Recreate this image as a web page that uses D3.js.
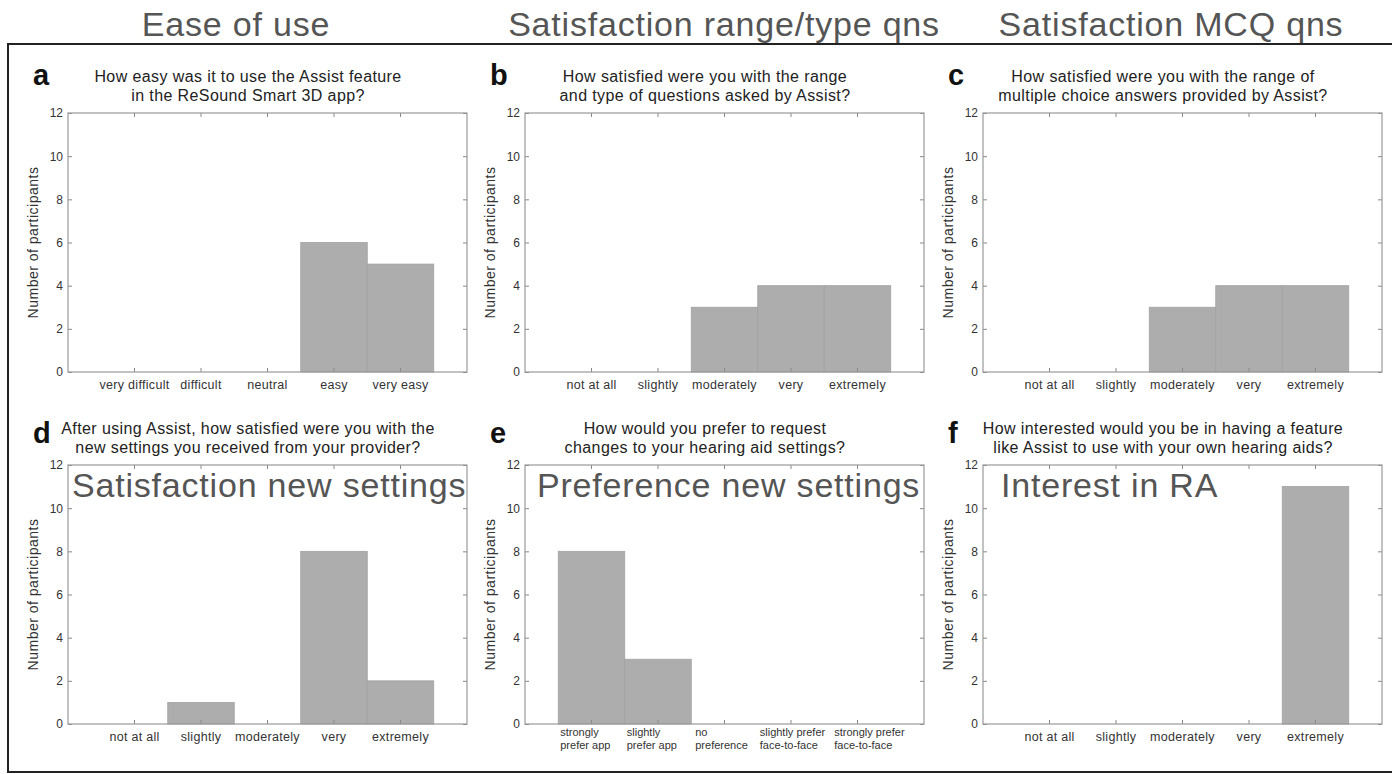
<!DOCTYPE html>
<html>
<head>
<meta charset="utf-8">
<script src="https://cdn.jsdelivr.net/npm/d3@7"></script>
<style>
  body { margin: 0; background: #fff; }
  svg { display: block; font-family: "Liberation Sans", Arial, sans-serif; }
</style>
</head>
<body>
<div id="chart"></div>
<script>
// categories
const catsEase = ["very difficult", "difficult", "neutral", "easy", "very easy"];
const catsSatisfaction = ["not at all", "slightly", "moderately", "very", "extremely"];
const catsPreference = [
  ["strongly", "prefer app"],
  ["slightly", "prefer app"],
  ["no", "preference"],
  ["slightly prefer", "face-to-face"],
  ["strongly prefer", "face-to-face"]
];

// number of participants per answer
const valuesEase = [0, 0, 0, 6, 5];
const valuesRangeType = [0, 0, 3, 4, 4];
const valuesMcq = [0, 0, 3, 4, 4];
const valuesNewSettings = [0, 1, 0, 8, 2];
const valuesPreference = [8, 3, 0, 0, 0];
const valuesInterest = [0, 0, 0, 0, 11];

const yTicks = [0, 2, 4, 6, 8, 10, 12];

const headerLabels = ["Ease of use", "Satisfaction range/type qns", "Satisfaction MCQ qns"];

const panels = [
  { letter: "a", title: ["How easy was it to use the Assist feature", "in the ReSound Smart 3D app?"],
    cats: catsEase, values: valuesEase, col: 0, row: 0 },
  { letter: "b", title: ["How satisfied were you with the range", "and type of questions asked by Assist?"],
    cats: catsSatisfaction, values: valuesRangeType, col: 1, row: 0 },
  { letter: "c", title: ["How satisfied were you with the range of", "multiple choice answers provided by Assist?"],
    cats: catsSatisfaction, values: valuesMcq, col: 2, row: 0 },
  { letter: "d", title: ["After using Assist, how satisfied were you with the", "new settings you received from your provider?"],
    cats: catsSatisfaction, values: valuesNewSettings, col: 0, row: 1, note: "Satisfaction new settings", noteDx: 4 },
  { letter: "e", title: ["How would you prefer to request", "changes to your hearing aid settings?"],
    cats: catsPreference, values: valuesPreference, col: 1, row: 1, note: "Preference new settings", noteDx: 12, twoLine: true },
  { letter: "f", title: ["How interested would you be in having a feature", "like Assist to use with your own hearing aids?"],
    cats: catsSatisfaction, values: valuesInterest, col: 2, row: 1, note: "Interest in RA", noteDx: 18 }
];

const W = 1392, H = 774;
const colLeft = [68, 525, 983];
const rowTop = [113, 465];
const plotW = 399, plotH = 259;
const headerX = [236, 724, 1171];
// nudges for the hand-placed two-line labels of panel e
const twoLineDx = [2, 2, 4, 2, 10];

const svg = d3.select("#chart").append("svg")
  .attr("width", W)
  .attr("height", H);

// header labels above the frame
headerLabels.forEach((t, i) => {
  svg.append("text")
    .attr("x", headerX[i])
    .attr("y", 36)
    .attr("text-anchor", "middle")
    .style("font-size", "34px")
    .style("letter-spacing", "0.8px")
    .style("fill", "#555")
    .text(t);
});

// outer frame
svg.append("rect")
  .attr("x", 8)
  .attr("y", 44)
  .attr("width", 1400)
  .attr("height", 728)
  .attr("fill", "none")
  .attr("stroke", "#222")
  .attr("stroke-width", 2);

function drawPanel(p) {
  const left = colLeft[p.col], top = rowTop[p.row];
  const right = left + plotW, bottom = top + plotH;
  const keys = p.cats.map((c, i) => i);

  const x = d3.scaleBand()
    .domain(keys)
    .range([left, right])
    .paddingInner(0)
    .paddingOuter(0.5);

  const y = d3.scaleLinear()
    .domain([0, 12])
    .range([bottom, top]);

  const g = svg.append("g");

  // bars
  g.selectAll("rect.bar")
    .data(p.values.map((v, i) => ({ i, v })).filter(d => d.v > 0))
    .enter()
    .append("rect")
    .attr("class", "bar")
    .attr("x", d => x(d.i))
    .attr("y", d => y(d.v))
    .attr("width", x.bandwidth())
    .attr("height", d => y(0) - y(d.v))
    .attr("fill", "#adadad")
    .attr("stroke", "#a2a2a2")
    .attr("stroke-width", 0.8);

  // ticks, inside on all four sides
  const tickColor = "#888";
  const xb = g.append("g")
    .attr("transform", `translate(0,${bottom})`)
    .call(d3.axisBottom(x).tickSizeInner(-4).tickSizeOuter(0).tickPadding(8)
      .tickFormat(i => p.twoLine ? "" : p.cats[i]));
  const xt = g.append("g")
    .attr("transform", `translate(0,${top})`)
    .call(d3.axisTop(x).tickSizeInner(-4).tickSizeOuter(0).tickFormat(""));
  const yl = g.append("g")
    .attr("transform", `translate(${left},0)`)
    .call(d3.axisLeft(y).tickValues(yTicks).tickSizeInner(-4).tickSizeOuter(0).tickPadding(5));
  const yr = g.append("g")
    .attr("transform", `translate(${right},0)`)
    .call(d3.axisRight(y).tickValues(yTicks).tickSizeInner(-4).tickSizeOuter(0).tickFormat(""));

  [xb, xt, yl, yr].forEach(a => {
    a.select(".domain").remove();
    a.selectAll(".tick line").attr("stroke", tickColor);
    a.selectAll("text")
      .style("font-family", "'Liberation Sans', Arial, sans-serif")
      .style("fill", "#333");
  });
  xb.selectAll("text").style("font-size", "12.5px").style("letter-spacing", "0.3px");
  yl.selectAll("text").style("font-size", "12px");

  // two-line category labels for panel e
  if (p.twoLine) {
    p.cats.forEach((lines, i) => {
      const lx = x(i) + twoLineDx[i];
      const t = g.append("text")
        .attr("x", lx)
        .attr("y", bottom + 12)
        .style("font-size", "11px")
        .style("fill", "#333");
      lines.forEach((ln, k) => {
        t.append("tspan")
          .attr("x", lx)
          .attr("dy", k === 0 ? 0 : 13)
          .text(ln);
      });
    });
  }

  // axes box
  g.append("rect")
    .attr("x", left)
    .attr("y", top)
    .attr("width", plotW)
    .attr("height", plotH)
    .attr("fill", "none")
    .attr("stroke", "#999")
    .attr("stroke-width", 1.2);

  // y axis label
  g.append("text")
    .attr("transform", `translate(${left - 30},${(top + bottom) / 2}) rotate(-90)`)
    .attr("text-anchor", "middle")
    .style("font-size", "14px")
    .style("letter-spacing", "0.5px")
    .style("fill", "#333")
    .text("Number of participants");

  // panel letter
  g.append("text")
    .attr("x", left - 35)
    .attr("y", p.row === 0 ? top - 28 : top - 22)
    .style("font-size", "29px")
    .style("font-weight", "bold")
    .style("fill", "#111")
    .text(p.letter);

  // question title
  p.title.forEach((ln, k) => {
    g.append("text")
      .attr("x", left + 180)
      .attr("y", top - 31 + k * 19)
      .attr("text-anchor", "middle")
      .style("font-size", "16px")
      .style("letter-spacing", "0.4px")
      .style("fill", "#222")
      .text(ln);
  });

  // overlay annotation
  if (p.note) {
    g.append("text")
      .attr("x", left + p.noteDx)
      .attr("y", top + 32)
      .style("font-size", "34px")
      .style("letter-spacing", "0.8px")
      .style("fill", "#555")
      .text(p.note);
  }
}

panels.forEach(drawPanel);
</script>
</body>
</html>
